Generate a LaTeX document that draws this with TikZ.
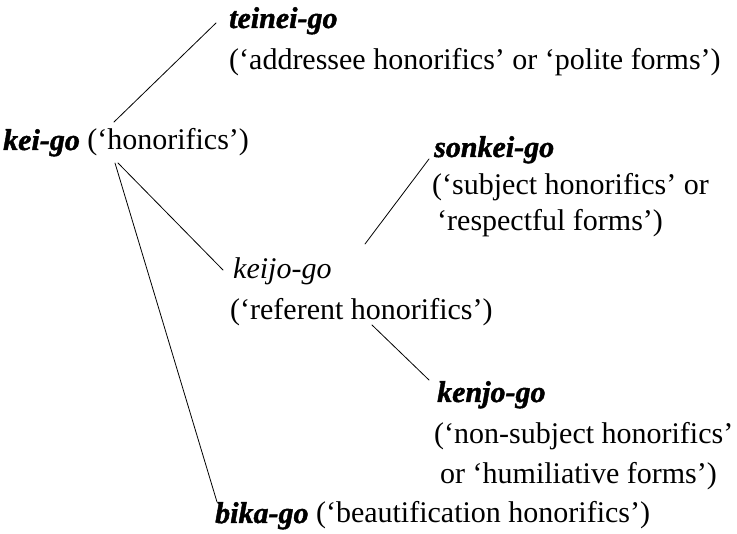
\documentclass[tikz,border=0pt]{standalone}
\usepackage{fontspec}
\setmainfont{Liberation Serif}[BoldItalicFeatures={FakeBold=1.5}]
\begin{document}
\begin{tikzpicture}[x=1pt,y=-1pt,
  lbl/.style={anchor=base west, inner sep=0pt, font=\fontsize{30}{36}\selectfont},
  term/.style={lbl, font=\fontsize{30}{36}\selectfont\bfseries\itshape},
  link/.style={line width=0.8pt, line cap=round}]
\useasboundingbox (0,0) rectangle (737,534);

% root
\node[lbl] (keigo) at (3,150) {\textbf{\textit{kei-go}} (‘honorifics’)};

% addressee honorifics
\node[term] (teinei) at (229,28) {teinei-go};
\node[lbl] (teineiG) at (229,70) {(‘addressee honorifics’ or ‘polite forms’)};

% referent honorifics and its two branches
\node[lbl, font=\fontsize{30}{36}\selectfont\itshape] (keijo) at (233,279) {keijo-go};
\node[lbl] (keijoG) at (230,320) {(‘referent honorifics’)};

\node[term] (sonkei) at (434,157) {sonkei-go};
\node[lbl] (sonkeiG1) at (432,195) {(‘subject honorifics’ or};
\node[lbl] (sonkeiG2) at (437,231) {‘respectful forms’)};

\node[term] (kenjo) at (437,402) {kenjo-go};
\node[lbl] (kenjoG1) at (434,444) {(‘non-subject honorifics’};
\node[lbl] (kenjoG2) at (440,484) {or ‘humiliative forms’)};

% beautification honorifics
\node[lbl] (bika) at (215,523) {\textbf{\textit{bika-go}} (‘beautification honorifics’)};

% connector ends, placed against the text they join
\coordinate (kg-up)   at ([shift={(111,-28)}]keigo.base west);
\coordinate (kg-dn1)  at ([shift={(115,13)}]keigo.base west);
\coordinate (kg-dn2)  at ([shift={(112,13)}]keigo.base west);
\coordinate (tg-in)   at ([shift={(-13,-5)}]teinei.base west);
\coordinate (kj-in)   at ([shift={(-10,-9)}]keijo.base west);
\coordinate (kj-up)   at ([shift={(132,-35)}]keijo.base west);
\coordinate (kj-dn)   at ([shift={(142,5)}]keijoG.base west);
\coordinate (sk-in)   at ([shift={(-5,2)}]sonkei.base west);
\coordinate (kn-in)   at ([shift={(-8,-22)}]kenjo.base west);
\coordinate (bk-in)   at ([shift={(2,-21)}]bika.base west);

\draw[link] (kg-up) -- (tg-in);
\draw[link] (kg-dn1) -- (kj-in);
\draw[link] (kg-dn2) -- (bk-in);
\draw[link] (kj-up) -- (sk-in);
\draw[link] (kj-dn) -- (kn-in);
\end{tikzpicture}
\end{document}
